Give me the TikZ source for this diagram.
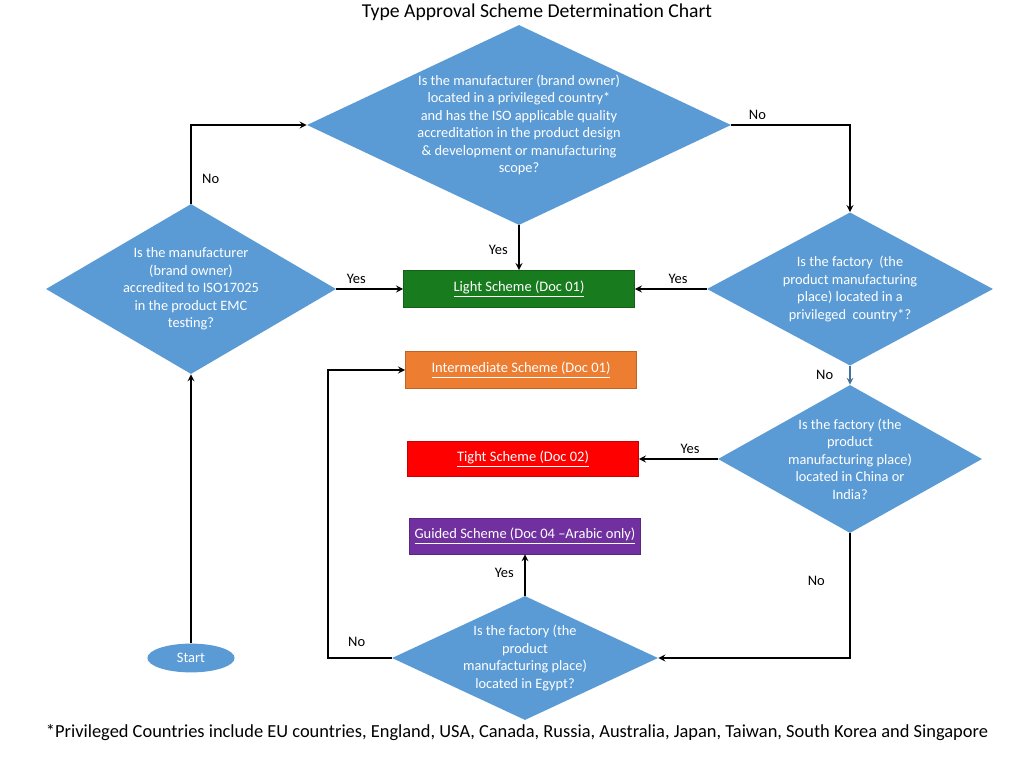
\documentclass[tikz,border=0pt]{standalone}
\usepackage{fontspec}
\setmainfont{Carlito}
\usepackage{tikz}
\usetikzlibrary{shapes.geometric}

\definecolor{qblue}{HTML}{5B9BD5}
\definecolor{qdark}{HTML}{41719C}
\definecolor{lightgreen}{HTML}{187B1E}
\definecolor{midorange}{HTML}{ED7D31}
\definecolor{tightred}{HTML}{FF0000}
\definecolor{guidepurple}{HTML}{7030A0}

\begin{document}
\begin{tikzpicture}[
  x=0.025cm, y=-0.025cm,
  decision/.style={diamond, fill=qblue, inner sep=0pt},
  qtext/.style={text=white, align=center, inner sep=0pt,
                font=\fontsize{10.2}{12.4}\selectfont},
  scheme/.style={draw=#1!80!black, line width=0.4pt, fill=#1, minimum width=5.78cm,
                 minimum height=0.93cm, text=white, font=\fontsize{10.3}{12}\selectfont},
  arrow/.style={->, >=stealth, line width=1.2pt},
  lbl/.style={font=\fontsize{10.3}{12}\selectfont, text=black},
]
\useasboundingbox (0,0) rectangle (1024,768);

% Titre
\node[font=\fontsize{14}{16}\selectfont] (title) at (537,12) {Type Approval Scheme Determination Chart};

% Décisions
\node[decision, minimum width=10.6cm, minimum height=5cm,
      label={[qtext]center:{Is the manufacturer (brand owner)\\located in a privileged country*\\and has the ISO applicable quality\\accreditation in the product design\\\& development or manufacturing\\scope?}}]
      (q1) at (519,125) {};
\node[decision, minimum width=7.25cm, minimum height=4.25cm,
      label={[qtext]center:{Is the manufacturer\\(brand owner)\\accredited to ISO17025\\in the product EMC\\testing?}}]
      (q2) at (191,289) {};
\node[decision, minimum width=7.15cm, minimum height=3.83cm,
      label={[qtext]center:{Is the factory~ (the\\product manufacturing\\place) located in a\\privileged~ country*?}}]
      (q3) at (850,289) {};
\node[decision, minimum width=6.6cm, minimum height=3.7cm,
      label={[qtext]center:{Is the factory (the\\product\\manufacturing place)\\located in China or\\India?}}]
      (q4) at (850,459) {};
\node[decision, minimum width=6.65cm, minimum height=3.1cm,
      label={[qtext]center:{Is the factory (the\\product\\manufacturing place)\\located in Egypt?}}]
      (q5) at (525,658) {};

% Départ
\node[ellipse, fill=qblue, minimum width=2.18cm, minimum height=0.72cm, inner sep=0pt,
      text=white, font=\fontsize{10.3}{12}\selectfont] (start) at (191,658) {Start};

% Schémas
\node[scheme=lightgreen]  (light)  at (519,289) {\underline{Light Scheme (Doc 01)}};
\node[scheme=midorange]   (inter)  at (521,370) {\underline{Intermediate Scheme (Doc 01)}};
\node[scheme=tightred, minimum height=0.88cm]    (tight)  at (523,459) {\underline{Tight Scheme (Doc 02)}};
\node[scheme=guidepurple, minimum height=0.9cm]  (guided) at (525,536) {\underline{Guided Scheme (Doc 04 --Arabic only)}};

\coordinate (bendL) at (328,658);

% Flèches
\draw[arrow] (start.north) -- (q2.south);
\draw[arrow] (q2.north) |- node[pos=.16, right=4pt, lbl] {No} (q1.west);
\draw[arrow] (q2.east) -- node[pos=.3, above, lbl] {Yes} (light.west);
\draw[arrow] (q1.south) -- node[pos=.55, left=4pt, lbl] {Yes} (light.north);
\draw[arrow] (q1.east) -| node[pos=.11, above, lbl] {No} (q3.north);
\draw[arrow] (q3.west) -- node[pos=.4, above, lbl] {Yes} (light.east);
\draw[arrow, draw=qdark] (q3.south) -- node[left=8pt, lbl] {No} (q4.north);
\draw[arrow] (q4.west) -- node[pos=.35, above, lbl] {Yes} (tight.east);
\draw[arrow] (q4.south) |- node[pos=.19, left=14pt, lbl] {No} (q5.east);
\draw[arrow] (q5.north) -- node[pos=.55, left=4pt, lbl] {Yes} (guided.south);
\draw[arrow] (q5.west) -- node[pos=.55, above=4pt, lbl] {No} (bendL) |- (inter.west);

% Note
\node[font=\fontsize{13.1}{15}\selectfont] (note) at (517,733)
  {*Privileged Countries include EU countries, England, USA, Canada, Russia, Australia, Japan, Taiwan, South Korea and Singapore};

\end{tikzpicture}
\end{document}
